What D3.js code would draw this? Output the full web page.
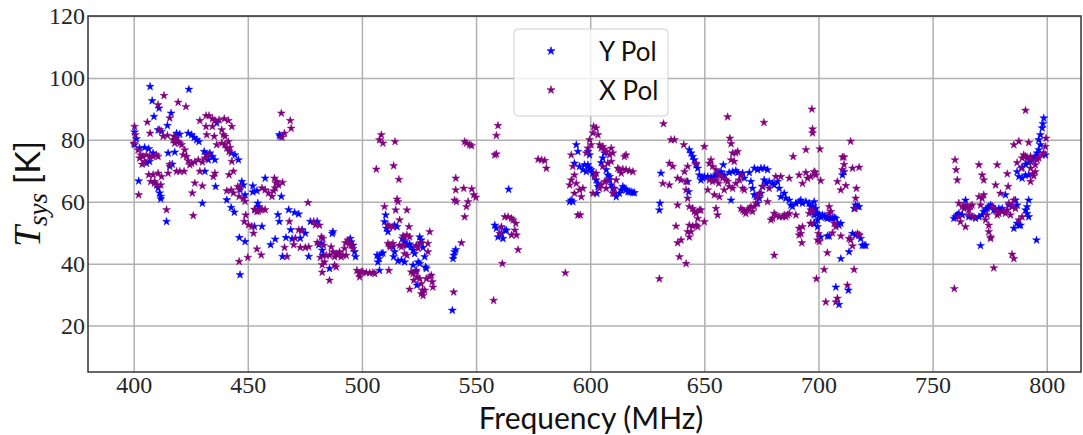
<!DOCTYPE html>
<html>
<head>
<meta charset="utf-8">
<script src="https://cdn.jsdelivr.net/npm/d3@7"></script>
<style>
  html, body { margin: 0; padding: 0; background: #fff; }
  svg { display: block; }
</style>
</head>
<body>
<svg id="chart" width="1083" height="435"></svg>
<script>
// ---------------- data ----------------
const seriesNames = ["Y Pol", "X Pol"];
const xTicks = [400, 450, 500, 550, 600, 650, 700, 750, 800];
const yTicks = [20, 40, 60, 80, 100, 120];
const xLabel = "Frequency (MHz)";

// Y Pol: [frequency MHz, Tsys K]
const yPol = [
[407.2,97.2],[424.2,96.3],[408.1,92.6],[411.1,90.2],[408.9,87.5],[416.4,88.6],[414.8,84.6],[400.4,82.5],[401.2,80.3],[400.4,78.4],[402.6,77.3],[404.8,77.5],[406.6,77.1],[408.5,75.7],[405.6,72.4],[407.0,73.0],[402.2,66.7],[410.7,83.2],[412.2,82.7],[418.8,82.1],[420.2,81.8],[423.9,82.1],[425.4,81.6],[426.5,80.7],[427.6,80.0],[428.6,79.4],[436.4,85.4],[415.1,75.7],[418.0,76.0],[416.9,72.1],[415.8,71.4],[430.9,76.2],[432.0,75.1],[433.4,75.7],[434.5,74.6],[432.7,73.5],[435.6,73.5],[431.2,69.8],[435.9,64.9],[442.7,75.7],[444.4,75.1],[445.9,73.5],[430.1,59.5],[414.4,53.6],[411.9,60.9],[410.7,64.4],[409.2,66.0],[411.4,62.8],[411.9,61.7],[447.4,66.5],[448.1,65.4],[446.6,63.8],[448.8,62.2],[440.8,60.6],[442.7,58.1],[444.1,56.6],[446.3,48.4],[448.8,47.1],[446.6,36.4],[452.2,65.1],[454.0,63.5],[452.2,63.1],[457.6,67.6],[454.4,59.5],[454.7,58.4],[453.2,57.4],[456.2,52.0],[452.9,52.0],[460.0,46.1],[462.0,47.9],[463.2,55.8],[464.7,61.7],[463.8,53.6],[467.9,57.4],[470.5,56.5],[472.3,56.0],[468.8,50.9],[466.7,48.4],[469.4,48.0],[473.0,48.2],[473.8,50.9],[475.2,49.8],[476.7,42.3],[477.4,53.6],[480.4,53.6],[481.1,46.1],[465.2,42.3],[464.2,81.1],[463.8,81.6],
[487.0,49.7],[487.3,50.3],[482.2,46.5],[482.6,44.3],[482.9,42.7],[485.8,38.4],[494.9,48.1],[495.3,47.0],[496.1,45.9],[496.8,43.8],[497.2,42.2],[507.0,40.5],[507.5,41.6],[506.6,42.7],[508.5,43.2],[509.2,43.4],[507.7,37.8],[510.4,55.7],[509.9,53.5],[510.7,51.4],[511.4,50.3],[514.3,52.4],[515.4,51.9],[512.9,45.9],[513.6,45.4],[514.3,43.8],[513.9,42.2],[515.8,40.9],[517.3,41.1],[518.7,40.5],[517.7,48.1],[518.7,47.0],[519.7,45.9],[520.9,46.3],[521.6,45.4],[522.4,44.3],[523.1,43.2],[525.3,48.6],[526.0,47.6],[525.6,46.5],[526.8,45.2],[527.5,42.2],[524.6,40.5],[525.3,40.0],[527.9,38.9],[528.2,38.4],[522.4,39.5],[523.8,37.8],[524.1,33.0],[539.6,24.9],[539.9,41.6],[540.2,42.7],[540.6,43.8],[541.1,44.5],[564.3,64.0],[558.2,52.4],[558.9,51.4],[559.6,48.6],[561.1,49.7],[562.6,50.8],[563.3,50.8],[561.8,48.1],
[591.7,60.5],[592.4,60.0],[591.0,60.0],[593.9,78.4],[594.6,76.2],[593.1,72.4],[595.3,71.4],[596.8,70.3],[598.3,69.7],[597.5,71.9],[599.0,71.9],[599.7,70.8],[600.4,70.3],[601.2,69.2],[601.9,68.6],[602.6,67.0],[603.4,65.9],[599.0,76.2],[599.7,75.1],[604.8,72.6],[605.5,74.1],[606.3,75.7],[607.0,70.3],[607.7,68.6],[608.5,67.0],[609.2,65.4],[609.9,64.3],[610.6,62.7],[611.4,61.6],[612.8,62.7],[613.6,63.8],[614.3,64.9],[615.0,64.3],[615.7,63.8],[616.5,63.2],[617.2,63.2],[617.9,63.2],[618.7,62.9],[619.4,62.9],[603.4,64.9],[602.9,62.7],[608.5,68.1],[631.0,69.2],[630.6,59.5],[630.3,57.3],[643.4,76.8],[644.2,75.7],[644.9,74.6],[645.6,73.5],[646.4,71.9],[647.1,70.8],[647.8,68.6],[648.5,67.0],[649.3,67.6],[650.0,68.1],[651.5,68.1],[652.9,67.9],[654.4,68.1],[655.1,68.6],[656.6,69.2],[657.3,69.7],[658.3,71.9],[658.7,68.6],[660.9,69.4],[662.4,69.7],[663.8,70.0],[664.6,69.4],[666.0,68.6],[666.8,69.2],[667.5,67.6],[642.7,66.5],[643.1,63.2],[661.7,60.5],[669.7,69.4],[670.4,66.5],[671.1,64.3],[671.9,62.2],[672.6,61.6],[673.3,59.5],[674.1,61.1],[674.8,62.7],[675.5,64.9],[676.2,67.0],[677.0,65.9],[678.4,66.5],[679.9,65.9],[680.6,65.4],[682.1,66.5],[682.8,64.3],[683.5,61.6],[685.0,62.7],[685.7,61.1],[687.2,60.5],[687.9,58.9],[688.6,58.4],[690.1,59.5],[691.5,60.0],[692.3,60.5],[693.0,59.5],[694.5,60.0],[695.9,59.5],[696.6,58.4],[698.1,57.3],[698.8,56.2],[699.6,54.1],[698.1,53.0],[699.6,51.9],[671.9,70.8],[673.3,70.3],[674.8,70.8],[676.2,70.8],[677.7,70.3],
[698.1,60.0],[697.4,58.6],[698.8,57.8],[698.1,55.7],[699.6,56.2],[700.3,55.7],[701.0,55.1],[701.7,55.7],[702.5,55.4],[703.2,54.9],[703.9,54.6],[704.7,54.9],[705.4,54.6],[706.1,54.6],[706.9,54.9],[707.6,54.6],[708.3,53.0],[709.0,52.4],[709.8,53.0],[698.1,53.0],[701.0,48.6],[703.9,48.9],[704.7,48.9],[710.5,68.6],[711.2,69.7],[716.3,58.9],[717.1,58.4],[715.6,57.8],[717.8,58.4],[714.9,49.7],[716.3,49.2],[717.8,49.2],[718.5,48.1],[719.2,45.9],[720.0,45.9],[720.7,45.9],[709.8,41.6],[713.4,43.8],[707.6,32.4],[713.1,31.4],[709.0,26.8],[759.3,54.6],[760.1,55.1],[760.8,55.7],[761.5,56.2],[763.0,55.7],[764.4,60.5],[765.9,55.1],[767.3,55.1],[768.8,54.6],[770.3,55.1],[771.7,55.7],[772.4,56.8],[773.2,57.3],[773.9,57.8],[774.6,58.4],[775.4,58.9],[776.1,58.4],[776.8,57.3],[777.6,57.3],[779.0,57.8],[779.7,57.3],[780.5,57.8],[781.9,62.2],[783.4,58.9],[784.8,58.4],[786.3,60.5],[787.0,58.9],[791.4,58.4],[792.1,60.5],[790.7,57.3],[791.4,56.2],[792.1,55.1],[787.0,53.0],[787.8,52.4],[788.5,52.4],[785.6,51.4],[795.5,47.6],[771.0,45.8],[787.0,69.7],[787.8,68.1],[789.2,67.6],[790.7,68.6],[792.1,68.6],[789.2,71.1],[790.7,72.1],[792.1,72.6],[792.9,73.0],[793.6,73.5],[794.3,74.1],[795.0,74.6],[795.8,75.7],[796.5,76.8],[797.2,78.4],[796.5,80.0],[797.2,81.6],[798.0,83.8],[798.3,85.2],[798.7,87.0],[799.4,75.1]
];

// X Pol: [frequency MHz, Tsys K]
const xPol = [
[400.4,84.3],[400.7,81.6],[400.1,78.9],[401.9,76.7],[403.1,75.1],[404.1,74.6],[402.6,74.1],[404.8,73.0],[403.7,72.1],[405.6,75.1],[407.0,74.6],[408.5,74.6],[410.0,75.1],[410.7,74.6],[402.2,62.2],[406.6,68.7],[407.5,66.5],[409.2,66.5],[408.5,68.7],[410.0,65.4],[411.9,65.4],[410.7,69.2],[412.2,68.1],[413.3,94.3],[410.7,91.3],[419.5,92.1],[422.9,90.7],[406.0,85.7],[407.2,82.1],[411.4,83.2],[412.9,81.1],[414.8,81.4],[415.8,87.0],[417.7,81.1],[418.8,80.5],[417.3,80.0],[419.5,79.4],[418.0,78.9],[420.2,78.9],[421.0,78.4],[422.4,76.7],[421.7,75.1],[423.2,74.6],[423.9,73.2],[424.6,71.9],[425.4,72.4],[426.8,72.8],[428.3,73.5],[415.8,72.1],[415.1,69.2],[418.8,69.8],[420.2,69.8],[422.1,69.8],[414.4,57.4],[426.1,55.5],[425.7,62.8],[426.8,66.0],[430.1,65.1],[429.0,69.8],[430.1,72.8],[431.2,74.1],[432.7,75.1],[434.9,68.1],[435.6,69.2],[429.0,86.2],[431.7,87.8],[433.0,87.8],[434.5,86.8],[435.6,86.2],[437.4,86.4],[439.7,86.8],[441.5,86.2],[443.0,84.3],[431.7,84.3],[434.5,84.3],[432.0,81.6],[435.3,81.1],[436.4,78.4],[438.6,78.9],[440.0,78.4],[440.8,77.3],[441.5,79.4],[440.0,81.1],[439.3,81.6],[438.6,83.2],[442.2,77.5],[441.8,76.2],[443.0,73.0],[443.7,69.8],[441.8,68.7],[440.8,63.5],[442.7,63.8],[443.7,62.8],[445.6,64.9],[446.6,64.4],[446.2,61.7],[448.1,61.1],[448.8,60.1],[449.1,55.7],[448.5,53.6],[450.3,52.5],[451.8,52.0],[452.5,49.8],[446.2,40.7],[450.0,42.0],[454.0,44.7],[455.9,42.8],[452.9,57.5],[454.0,56.8],[454.7,57.0],[455.4,57.4],[456.2,57.6],[457.6,57.4],[456.2,64.4],[457.6,63.8],[459.1,62.8],[460.6,61.7],[461.3,63.5],[462.0,64.4],[462.3,66.0],[463.5,65.4],[462.8,66.5],[461.7,67.6],[465.2,66.2],[464.7,88.6],[468.6,86.2],[469.0,83.7],[466.1,82.1],[465.0,80.8],[476.4,59.7],[468.2,53.6],[472.3,50.9],[473.5,50.6],[470.8,48.2],[470.1,46.1],[466.1,45.2],[467.2,42.3],[473.0,45.2],[475.2,45.2],[476.7,45.4],[480.4,46.8],[478.9,53.6],[479.6,52.5],[481.8,42.0],[482.6,39.6],[482.6,37.2],
[481.4,52.4],[482.2,48.6],[482.9,48.1],[483.2,45.9],[484.4,42.7],[483.6,40.5],[485.8,42.7],[486.5,45.4],[487.3,43.8],[488.7,43.2],[488.0,42.2],[489.5,42.7],[490.2,43.8],[490.9,42.2],[491.7,42.7],[493.1,42.7],[492.4,44.9],[492.8,46.7],[493.9,47.6],[494.6,46.5],[495.3,45.9],[496.1,44.9],[485.8,34.6],[488.0,39.5],[488.7,38.9],[497.8,37.8],[498.7,36.8],[499.7,37.3],[500.4,37.3],[501.9,37.1],[503.4,37.0],[504.8,37.1],[505.6,36.8],[499.0,35.7],[511.8,37.8],[506.3,70.5],[508.5,81.6],[507.7,80.0],[509.2,78.9],[514.5,79.4],[513.9,71.6],[516.2,67.2],[515.4,60.8],[515.8,60.0],[514.8,57.3],[509.9,58.4],[519.7,57.3],[516.5,54.1],[520.6,51.9],[520.9,48.6],[519.7,49.2],[518.7,48.6],[518.0,48.9],[511.4,52.4],[512.1,51.9],[513.6,51.9],[511.4,46.5],[512.4,45.4],[512.1,45.9],[513.6,46.5],[516.5,45.9],[517.3,45.4],[518.0,45.9],[518.7,43.2],[519.7,42.7],[529.7,50.3],[528.9,46.5],[528.9,43.8],[526.0,46.7],[523.8,45.9],[524.6,44.9],[521.6,37.3],[522.4,36.8],[523.8,37.3],[524.1,35.7],[522.7,34.6],[525.3,35.1],[526.0,33.5],[526.5,31.4],[526.0,30.3],[526.8,29.7],[527.5,31.4],[528.2,35.1],[529.7,35.7],[530.4,36.2],[530.8,34.1],[531.1,32.4],[520.9,31.7],[540.2,30.8],[557.7,28.1],[541.1,67.6],[541.1,63.8],[540.6,60.5],[541.4,60.0],[544.6,64.3],[548.1,64.1],[549.0,62.2],[549.9,61.4],[546.5,60.0],[545.8,58.4],[545.0,55.1],[543.6,46.7],[559.6,84.6],[558.9,81.4],[558.9,75.4],[558.2,75.1],[545.0,79.4],[545.8,78.9],[547.2,78.4],[548.0,78.1],[577.2,73.7],[578.7,73.5],[580.1,73.3],[580.8,70.8],[562.6,55.1],[564.0,55.1],[565.5,54.6],[566.2,54.1],[567.4,53.0],[567.0,50.8],[567.7,49.2],[565.5,49.2],[561.1,51.9],[560.4,49.7],[568.4,44.5],[561.5,40.0],[589.1,37.0],
[591.7,75.1],[592.4,71.4],[593.1,68.6],[591.7,67.0],[593.9,65.9],[593.1,62.7],[596.1,61.6],[595.3,63.8],[591.0,65.4],[596.8,64.3],[594.6,55.7],[595.6,55.7],[601.5,84.3],[602.6,83.8],[601.2,82.2],[603.4,81.6],[599.7,80.0],[600.4,78.4],[599.0,77.3],[598.3,75.7],[604.1,78.4],[604.8,77.3],[605.5,77.8],[606.3,76.8],[607.0,76.2],[608.5,75.1],[609.2,77.3],[609.9,75.7],[609.2,73.0],[607.7,72.4],[605.5,71.4],[602.6,69.2],[601.9,68.1],[606.3,66.5],[604.8,65.4],[604.1,64.3],[601.2,62.7],[607.0,64.3],[607.7,66.9],[610.6,64.3],[609.9,62.7],[612.1,70.8],[612.8,70.3],[614.3,70.5],[615.7,70.3],[617.2,70.0],[618.7,69.7],[615.0,74.6],[615.7,75.1],[611.4,67.0],[613.6,69.2],[632.1,85.2],[635.4,80.0],[636.9,80.0],[641.0,78.4],[634.7,72.4],[636.2,71.4],[638.3,67.6],[639.8,67.0],[631.8,65.9],[634.7,65.4],[642.0,66.5],[641.3,69.7],[642.7,71.4],[646.4,72.4],[638.3,58.9],[642.0,63.8],[642.7,61.1],[643.4,58.4],[644.9,57.8],[645.6,56.8],[646.4,56.2],[647.1,54.6],[647.8,57.3],[648.5,57.3],[646.4,52.4],[647.1,51.9],[644.9,52.1],[643.4,52.4],[644.2,50.3],[642.7,50.3],[643.4,48.6],[637.6,52.1],[638.3,46.7],[639.8,47.6],[639.1,42.2],[642.0,40.0],[630.3,35.1],[650.0,53.5],[650.0,77.8],[660.2,87.4],[661.2,80.5],[661.7,78.7],[662.4,75.7],[661.7,73.5],[663.1,73.0],[663.8,75.7],[664.6,76.2],[652.9,73.5],[652.2,72.4],[653.6,71.4],[655.1,70.3],[656.6,68.6],[658.0,67.6],[659.5,67.0],[652.2,67.0],[653.6,66.5],[655.1,67.0],[656.3,65.9],[651.5,63.8],[654.4,62.2],[656.6,61.6],[658.7,63.8],[660.2,66.5],[660.9,64.9],[662.4,64.3],[663.8,65.9],[665.3,67.0],[666.0,68.6],[666.8,64.3],[667.5,63.8],[655.1,57.8],[655.8,55.7],[666.0,57.8],[666.8,57.3],[667.5,56.8],[668.2,56.2],[668.9,57.3],[669.7,57.8],[670.4,58.4],[671.1,56.8],[671.9,58.4],[672.6,59.5],[673.3,61.6],[674.1,62.7],[675.5,64.9],[676.1,85.6],[681.3,68.1],[683.5,68.1],[678.4,64.3],[677.7,60.0],[680.6,56.2],[681.3,55.7],[682.8,55.1],[684.3,55.1],[685.0,55.7],[685.7,55.1],[686.4,55.7],[687.2,56.2],[679.2,54.1],[679.9,54.6],[687.2,67.6],[688.9,74.6],[691.5,68.6],[693.0,65.9],[694.5,69.4],[695.2,67.6],[696.6,68.1],[698.1,69.7],[698.8,68.6],[694.5,76.8],[697.4,82.2],[697.1,89.9],[690.1,55.7],[691.5,51.4],[692.3,49.7],[693.0,51.9],[691.5,49.2],[692.7,46.7],[696.6,53.0],[695.9,56.2],[680.6,42.7],[699.1,35.1],[700.0,49.7],
[697.4,83.5],[700.6,77.0],[698.5,69.4],[701.0,66.8],[696.6,57.3],[697.4,56.8],[696.6,52.9],[699.6,47.6],[700.3,47.1],[702.5,38.1],[703.2,27.6],[707.6,27.6],[708.3,28.8],[703.9,43.5],[704.7,58.4],[705.4,56.8],[704.7,56.2],[706.9,53.0],[707.6,51.9],[706.1,49.9],[709.8,48.9],[713.4,48.1],[714.1,47.6],[714.9,45.7],[717.1,49.7],[717.8,49.2],[714.1,79.5],[710.5,74.4],[711.2,74.4],[711.2,72.0],[710.5,70.3],[714.9,70.8],[717.8,71.1],[708.3,66.5],[709.8,63.8],[712.0,65.2],[716.6,64.3],[716.3,61.1],[716.0,57.8],[715.6,38.1],[712.7,33.0],[759.8,73.5],[760.3,70.3],[760.8,67.0],[759.5,31.9],[761.5,59.5],[763.0,58.4],[763.7,57.8],[764.4,58.9],[765.2,58.4],[765.9,57.3],[766.6,58.4],[767.3,58.9],[761.5,55.1],[762.2,53.5],[764.4,51.9],[765.9,55.7],[768.1,55.1],[770.3,61.6],[771.0,58.9],[771.7,61.1],[772.4,62.2],[773.2,54.1],[773.9,55.7],[774.6,52.4],[774.6,50.3],[775.4,48.6],[775.4,48.1],[776.1,58.4],[777.6,57.3],[778.3,55.7],[779.0,56.2],[779.7,62.7],[780.5,56.8],[781.9,56.2],[782.7,57.3],[783.4,59.5],[784.1,55.7],[784.8,58.4],[785.6,60.5],[786.3,57.8],[787.8,54.1],[789.2,55.1],[770.3,71.9],[771.7,68.6],[772.4,67.0],[778.3,71.9],[777.6,65.4],[782.7,69.0],[783.1,64.9],[784.8,43.0],[785.6,41.6],[776.8,38.6],[785.6,78.4],[787.8,79.5],[792.1,79.1],[790.7,74.6],[791.4,74.1],[789.9,75.1],[789.2,74.1],[792.9,74.6],[793.6,73.5],[795.0,71.9],[795.8,73.5],[796.5,74.1],[798.0,75.1],[798.7,75.7],[799.4,77.8],[799.7,80.5],[790.7,89.5],[787.0,72.6],[788.9,70.8],[792.9,70.8],[793.9,69.0],[794.3,68.3],[795.0,69.7],[792.9,66.5]
];

// ---------------- chart ----------------
const colors = { "Y Pol": "#0000ff", "X Pol": "#800080" };
const plot = { left: 88, right: 1081, top: 16, bottom: 372 };

const svg = d3.select("#chart");
const x = d3.scaleLinear().domain([380, 815]).range([plot.left, plot.right]);
const y = d3.scaleLinear().domain([5, 120]).range([plot.bottom, plot.top]);

const tickFont = "'Liberation Serif', 'Times New Roman', serif";
const sansFont = "Lato, 'Open Sans', sans-serif";

// x axis with grid
const xAxis = svg.append("g")
  .attr("transform", `translate(0,${plot.bottom})`)
  .call(d3.axisBottom(x).tickValues(xTicks).tickFormat(d3.format("d"))
    .tickSizeInner(-(plot.bottom - plot.top)).tickSizeOuter(0).tickPadding(4));
xAxis.select(".domain").remove();
xAxis.selectAll(".tick line").attr("stroke", "#b0b0b0").attr("stroke-width", 1.5);
xAxis.selectAll(".tick text").attr("font-family", tickFont).attr("font-size", 24).attr("fill", "#262626");

// y axis with grid
const yAxis = svg.append("g")
  .attr("transform", `translate(${plot.left},0)`)
  .call(d3.axisLeft(y).tickValues(yTicks).tickFormat(d3.format("d"))
    .tickSizeInner(-(plot.right - plot.left)).tickSizeOuter(0).tickPadding(3));
yAxis.select(".domain").remove();
yAxis.selectAll(".tick line").attr("stroke", "#b0b0b0").attr("stroke-width", 1.5);
yAxis.selectAll(".tick text").attr("font-family", tickFont).attr("font-size", 24).attr("fill", "#262626");

// points
const star = d3.symbol().type(d3.symbolStar).size(20);
const series = [["Y Pol", yPol], ["X Pol", xPol]];
const pts = svg.append("g");
series.forEach(([name, data]) => {
  pts.append("g").selectAll("path").data(data).join("path")
    .attr("d", star)
    .attr("transform", d => `translate(${x(d[0])},${y(d[1])})`)
    .attr("fill", colors[name])
    .attr("stroke", colors[name])
    .attr("stroke-width", 0.8)
    .attr("stroke-opacity", 0.55);
});

// spines
svg.append("rect")
  .attr("x", plot.left).attr("y", plot.top)
  .attr("width", plot.right - plot.left).attr("height", plot.bottom - plot.top)
  .attr("fill", "none").attr("stroke", "#333").attr("stroke-width", 1.5);

// axis labels
svg.append("text")
  .attr("x", 591).attr("y", 429)
  .attr("text-anchor", "middle")
  .attr("font-family", sansFont).attr("font-size", 30).attr("fill", "#111")
  .text(xLabel);

const yl = svg.append("text")
  .attr("transform", `translate(40,${(plot.top + plot.bottom) / 2}) rotate(-90)`)
  .attr("text-anchor", "middle").attr("fill", "#111");
yl.append("tspan").attr("font-family", tickFont).attr("font-style", "italic").attr("font-size", 38).text("T");
yl.append("tspan").attr("font-family", tickFont).attr("font-style", "italic").attr("font-size", 27).attr("dy", 7).text("sys");
yl.append("tspan").attr("font-family", sansFont).attr("font-size", 34).attr("dy", -7).text("\u00a0[K]");

// legend
const lg = svg.append("g");
lg.append("rect")
  .attr("x", 514).attr("y", 29).attr("width", 154).attr("height", 87)
  .attr("rx", 4).attr("ry", 4)
  .attr("fill", "#fff").attr("fill-opacity", 0.8)
  .attr("stroke", "#d0d0d0").attr("stroke-width", 1);
seriesNames.forEach((name, i) => {
  const cy = 51 + i * 39;
  lg.append("path").attr("d", star)
    .attr("transform", `translate(551,${cy})`)
    .attr("fill", colors[name]).attr("stroke", colors[name]).attr("stroke-width", 0.6);
  lg.append("text").attr("x", 599).attr("y", cy + 10)
    .attr("font-family", sansFont).attr("font-size", 26).attr("fill", "#111")
    .text(name);
});
</script>
</body>
</html>
